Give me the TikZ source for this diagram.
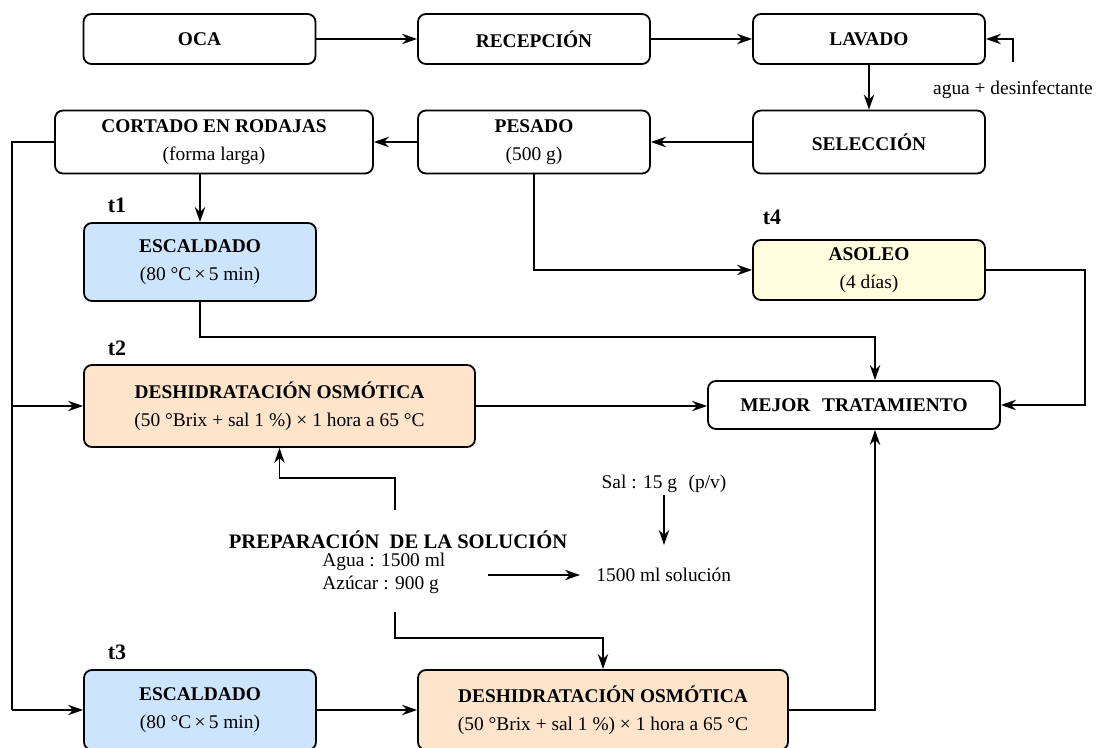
\documentclass[tikz,border=0pt]{standalone}
\usepackage{fontspec}
\setmainfont{Liberation Serif}
\usepackage{tikz}
\usetikzlibrary{arrows.meta}
\definecolor{escfill}{RGB}{204,228,252}
\definecolor{oscfill}{RGB}{253,228,202}
\definecolor{solfill}{RGB}{254,254,222}

\begin{document}
\begin{tikzpicture}[x=0.5pt, y=-0.5pt,
  box/.style={draw, rounded corners=4pt, line width=0.9pt, align=center,
    font=\fontsize{9.7}{14}\selectfont, inner sep=2pt},
  small/.style={box, minimum width=116pt, minimum height=25pt},
  tlabel/.style={font=\fontsize{11}{13}\selectfont\bfseries},
  note/.style={font=\fontsize{9.7}{12}\selectfont, inner sep=1pt},
  arr/.style={-{Stealth[length=7.5pt, width=5.2pt, inset=2.4pt]}, line width=0.75pt},
  line/.style={line width=0.75pt}]
  \useasboundingbox (0,0) rectangle (1109,748);

  \node[small] (oca) at (199.5,39) {\textbf{OCA}};
  \node[small] (recep) at (534,39) {\textbf{RECEPCIÓN}};
  \node[small] (lavado) at (869,39) {\textbf{LAVADO}};
  \node[box, minimum width=159pt, minimum height=31.5pt] (cortado) at (214,142)
    {\textbf{CORTADO EN RODAJAS}\\(forma larga)};
  \node[small, minimum height=31.5pt] (pesado) at (534,142) {\textbf{PESADO}\\(500 g)};
  \node[small, minimum height=31.5pt] (selec) at (869,142) {\textbf{SELECCIÓN}};
  \node[note] (agua) at (1013,90) {agua + desinfectante};

  \node[small, fill=escfill, minimum height=39pt] (esc1) at (200,262)
    {\textbf{ESCALDADO}\\(80 °C\,×\,5 min)};
  \node[small, fill=solfill, minimum height=30pt] (asoleo) at (869,270)
    {\textbf{ASOLEO}\\(4 días)};
  \node[box, fill=oscfill, minimum width=195.5pt, minimum height=41pt] (desh2) at (279.5,406)
    {\textbf{DESHIDRATACIÓN OSMÓTICA}\\(50 °Brix + sal 1 \%) × 1 hora a 65 °C};
  \node[box, minimum width=146pt, minimum height=24pt] (mejor) at (854,405)
    {\textbf{MEJOR\hspace{0.6em}TRATAMIENTO}};
  \node[small, fill=escfill, minimum height=40pt] (esc3) at (200,710)
    {\textbf{ESCALDADO}\\(80 °C\,×\,5 min)};
  \node[box, fill=oscfill, minimum width=185pt, minimum height=40pt] (desh3) at (603,710)
    {\textbf{DESHIDRATACIÓN OSMÓTICA}\\(50 °Brix + sal 1 \%) × 1 hora a 65 °C};

  \node[tlabel] (t1) at (117,205) {t1};
  \node[tlabel] (t2) at (117,348) {t2};
  \node[tlabel] (t3) at (117,652) {t3};
  \node[tlabel] (t4) at (772,217) {t4};

  \node[note, font=\fontsize{10.3}{12}\selectfont\bfseries] (prep) at (398,540)
    {PREPARACIÓN\hspace{0.5em}DE LA SOLUCIÓN};
  \node[note, anchor=west] (agualt) at (320,562) {Agua : 1500 ml};
  \node[note, anchor=west] (azucar) at (320,585) {Azúcar : 900 g};
  \node[note, anchor=west, inner xsep=8pt] (sol) at (580,575) {1500 ml solución};
  \node[note] (sal) at (664,484) {Sal : 15 g\hspace{0.6em}(p/v)};

  \coordinate (lft) at (12,0);
  \coordinate (mx) at (875,0);
  \coordinate (rgt) at (1085,0);
  \coordinate (wash) at (1013,62);
  \coordinate (mixA) at (488,575);
  \coordinate (salEnd) at (664,545);
  \coordinate (p1) at (395,510);
  \coordinate (p2) at (395,612);

  \draw[arr] (oca) -- (recep);
  \draw[arr] (recep) -- (lavado);
  \draw[arr] (lavado) -- (selec);
  \draw[arr] (wash) |- (lavado.east);
  \draw[arr] (selec) -- (pesado);
  \draw[arr] (pesado) -- (cortado);
  \draw[arr] (esc1.north |- cortado.south) -- (esc1.north);
  \draw[line] (cortado.west) -| (lft |- esc3.west);
  \draw[arr] (lft |- desh2.west) -- (desh2.west);
  \draw[arr] (lft |- esc3.west) -- (esc3.west);
  \draw[arr] (pesado.south) |- (asoleo.west);
  \draw[arr] (esc1.south) -- ++(0,35) -| (mx |- mejor.north);
  \draw[arr] (desh2.east) -- (desh2.east -| mejor.west);
  \draw[arr] (asoleo.east) -| (rgt |- mejor.east) -- (mejor.east);
  \draw[arr] (esc3) -- (desh3);
  \draw[arr] (desh3.east) -| (mx |- mejor.south);
  \draw[arr] (p1) -- ++(0,-32) -| (desh2.south);
  \draw[arr] (p2) -- ++(0,26) -| (desh3.north);
  \draw[arr] (mixA) -- (sol.west);
  \draw[arr] (sal.south) -- (salEnd);
\end{tikzpicture}
\end{document}
